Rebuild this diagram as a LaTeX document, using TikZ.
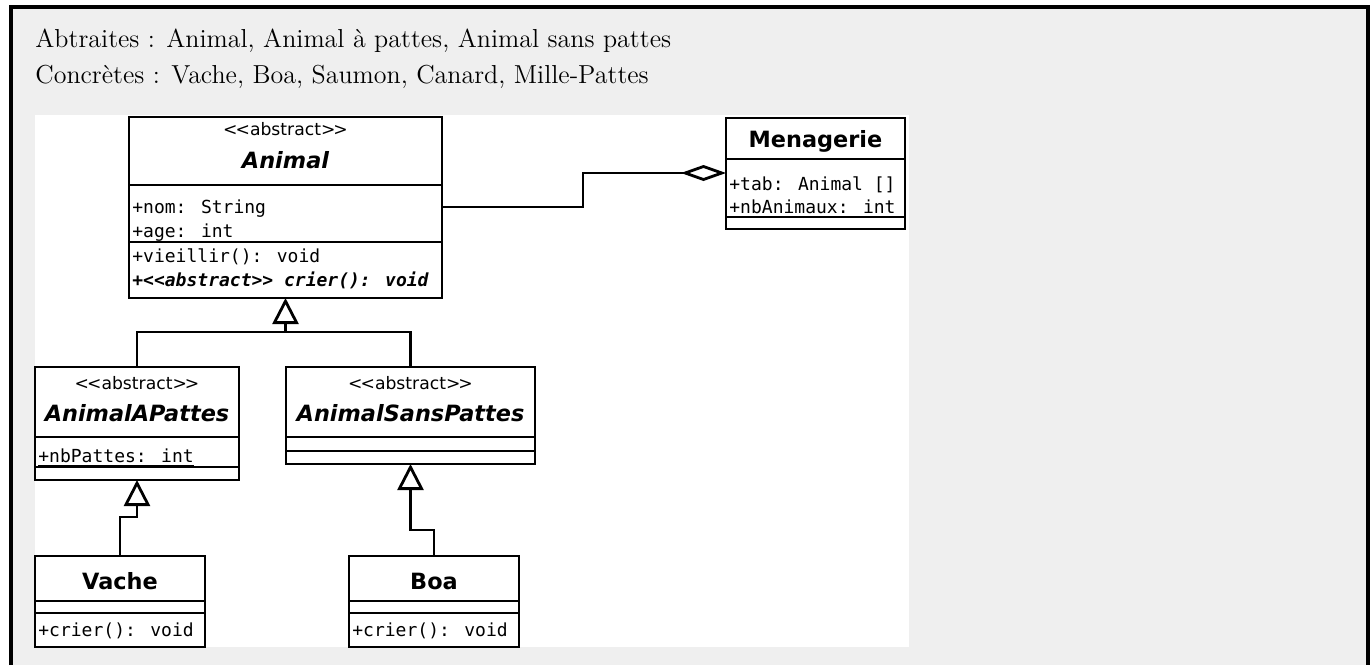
\documentclass[tikz,border=0pt]{standalone}
\usepackage{fontspec}
\usetikzlibrary{arrows.meta}

\newfontfamily\umlsans{DejaVu Sans}
\newfontfamily\umlmono{DejaVu Sans Mono}
\definecolor{fondgris}{HTML}{EFEFEF}

\begin{document}
\begin{tikzpicture}[x=0.5pt, y=-0.5pt,
    part/.style={rectangle, draw, fill=white, line width=1.4pt, inner sep=0pt, outer sep=0pt, anchor=north west},
    stereo/.style={font=\umlsans\fontsize{8.6}{10}\selectfont, anchor=base, inner sep=0pt},
    clsname/.style={font=\umlsans\bfseries\fontsize{11.2}{13}\selectfont, anchor=base, inner sep=0pt},
    absname/.style={clsname, font=\umlsans\bfseries\itshape\fontsize{11.2}{13}\selectfont},
    member/.style={font=\umlmono\fontsize{9}{11}\selectfont, anchor=base west, inner sep=0pt},
    line/.style={line width=1.4pt},
    gen/.style={line width=1.4pt, -{Triangle[open, length=13pt, width=13pt]}},
    agg/.style={line width=1.4pt, -{Diamond[open, length=22.5pt, width=8pt]}}]
    \useasboundingbox (0,0) rectangle (1370,665);

    % cadre gris et image blanche
    \fill[fondgris] (10.8,7) rectangle (1368,665);
    \draw[line width=1.85pt] (10.8,665) -- (10.8,7) -- (1368,7) -- (1368,665);
    \fill[white] (35,115) rectangle (909,647);

    \node[anchor=base west, inner sep=0pt, font=\fontsize{13}{18}\selectfont] (abstraites) at (35,47) {Abtraites : Animal, Animal à pattes, Animal sans pattes};
    \node[anchor=base west, inner sep=0pt, font=\fontsize{13}{18}\selectfont] (concretes) at (35,83) {Concrètes : Vache, Boa, Saumon, Canard, Mille-Pattes};

    % classes (titre, attributs, operations)
    \node[part, minimum width=156.5pt, minimum height=34pt] (animal) at (129,117) {};
    \node[part, minimum width=156.5pt, minimum height=28.5pt] (animalattr) at (animal.south west) {};
    \node[part, minimum width=156.5pt, minimum height=28pt] (animalops) at (animalattr.south west) {};

    \node[part, minimum width=89.5pt, minimum height=20.5pt] (menagerie) at (726,118) {};
    \node[part, minimum width=89.5pt, minimum height=29pt] (menagerieattr) at (menagerie.south west) {};
    \node[part, minimum width=89.5pt, minimum height=6pt] (menagerieops) at (menagerieattr.south west) {};

    \node[part, minimum width=102pt, minimum height=35pt] (apattes) at (35,367) {};
    \node[part, minimum width=102pt, minimum height=15pt] (apattesattr) at (apattes.south west) {};
    \node[part, minimum width=102pt, minimum height=6.5pt] (apattesops) at (apattesattr.south west) {};

    \node[part, minimum width=124.5pt, minimum height=35pt] (spattes) at (286,367) {};
    \node[part, minimum width=124.5pt, minimum height=7pt] (spattesattr) at (spattes.south west) {};
    \node[part, minimum width=124.5pt, minimum height=6.5pt] (spattesops) at (spattesattr.south west) {};

    \node[part, minimum width=85pt, minimum height=22.5pt] (vache) at (35,556) {};
    \node[part, minimum width=85pt, minimum height=6pt] (vacheattr) at (vache.south west) {};
    \node[part, minimum width=85pt, minimum height=17pt] (vacheops) at (vacheattr.south west) {};

    \node[part, minimum width=85pt, minimum height=22.5pt] (boa) at (349,556) {};
    \node[part, minimum width=85pt, minimum height=6pt] (boaattr) at (boa.south west) {};
    \node[part, minimum width=85pt, minimum height=17pt] (boaops) at (boaattr.south west) {};

    % textes des classes
    \node[stereo] (animalst) at (285.5,135) {<\kern-1pt<abstract>\kern-1pt>};
    \node[absname] (animalname) at (285.5,168) {Animal};
    \node[member] (animalnom) at (132,213) {+nom: String};
    \node[member] (animalage) at (132,237) {+age: int};
    \node[member] (animalvieillir) at (132,262) {+vieillir(): void};
    \node[member, font=\umlmono\bfseries\itshape\fontsize{9}{11}\selectfont] (animalcrier) at (132,286) {+<<abstract>> crier(): void};

    \node[clsname] (menageriename) at (815.5,147) {Menagerie};
    \node[member] (menagerietab) at (729,190) {+tab: Animal []};
    \node[member] (menagerienb) at (729,213) {\underline{+nbAnimaux: int}};

    \node[stereo] (apattesst) at (137,389) {<\kern-1pt<abstract>\kern-1pt>};
    \node[absname] (apattesname) at (137,421) {AnimalAPattes};
    \node[member] (apattesnb) at (38,462) {\underline{+nbPattes: int}};

    \node[stereo] (spattesst) at (410.5,389) {<\kern-1pt<abstract>\kern-1pt>};
    \node[absname] (spattesname) at (410.5,421) {AnimalSansPattes};

    \node[clsname] (vachename) at (120,589) {Vache};
    \node[member] (vachecrier) at (38,636) {+crier(): void};

    \node[clsname] (boaname) at (434,589) {Boa};
    \node[member] (boacrier) at (352,636) {+crier(): void};

    % liens
    \coordinate (joint) at (285.5,332);
    \coordinate (elbow) at (583,190);
    \draw[gen] (joint) -- (animalops.south);
    \draw[line] (apattes.north) |- (joint);
    \draw[line] (spattes.north) |- (joint);
    \draw[gen] (vache.north) -- ++(0,-39) -| (apattesops.south);
    \draw[gen] (boa.north) -- ++(0,-26) -| (spattesops.south);
    \draw[agg] ([yshift=3.25pt]animalattr.east) -| (elbow) |- ([yshift=7.5pt]menagerieattr.west);
\end{tikzpicture}
\end{document}
